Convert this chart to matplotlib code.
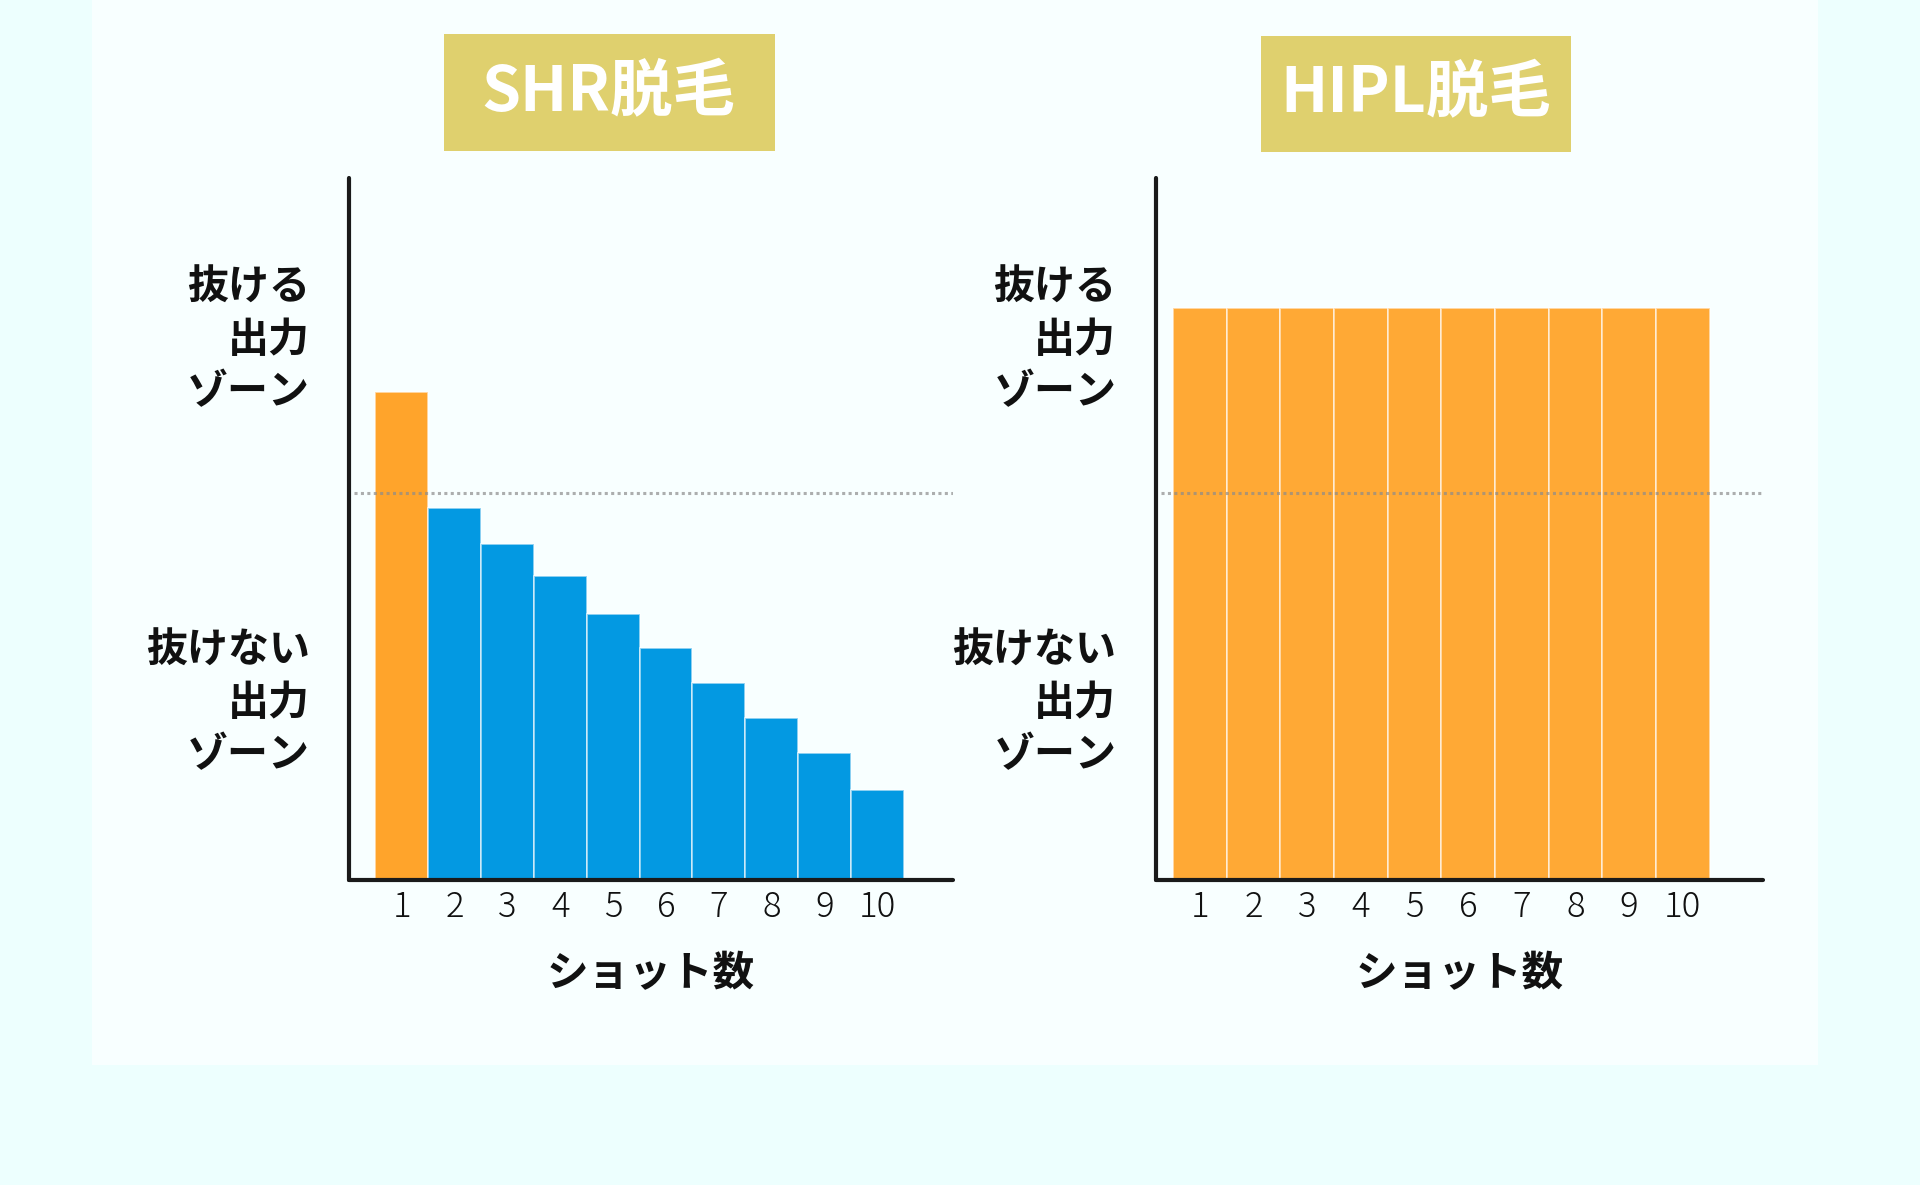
import matplotlib
matplotlib.use('Agg')
import matplotlib.pyplot as plt
import matplotlib.transforms as mtransforms
from matplotlib.patches import Rectangle

plt.rcParams['font.family'] = ['Noto Sans CJK JP', 'DejaVu Sans']

# data (threshold line = 50)
shots = [1, 2, 3, 4, 5, 6, 7, 8, 9, 10]
shot_labels = ['1', '2', '3', '4', '5', '6', '7', '8', '9', '10']
shr_output = [63.1, 48.1, 43.5, 39.3, 34.4, 30.0, 25.5, 20.9, 16.5, 11.7]
hipl_output = [73.9, 73.9, 73.9, 73.9, 73.9, 73.9, 73.9, 73.9, 73.9, 73.9]
threshold = 50
titles = ['SHR脱毛', 'HIPL脱毛']
zone_hi = '抜ける\n出力\nゾーン'
zone_lo = '抜けない\n出力\nゾーン'
xlabel = 'ショット数'

OUTER_BG = '#edfffe'
PANEL_BG = '#f8ffff'
BOX_COLOR = '#dfd06e'
ORANGE = '#ffa42b'
ORANGE_R = '#ffa935'
BLUE = '#0399e2'

fig = plt.figure(figsize=(19.2, 11.85), dpi=100)
fig.patch.set_facecolor(OUTER_BG)

# white panel behind everything
fig.patches.append(Rectangle((0.0478, 0.1012), 0.8993, 0.9, transform=fig.transFigure,
                             facecolor=PANEL_BG, edgecolor='none', zorder=-2))


def draw_chart(rect, values, colors, xlim, box, title_x, title):
    ax = fig.add_axes(rect)
    ax.set_zorder(2)
    ax.set_facecolor('none')
    ax.bar(shots, values, width=1.0, color=colors, edgecolor=(1, 1, 1, 0.6),
           linewidth=1.3, zorder=2)
    ax.axhline(threshold, xmin=0.008, xmax=1.0, color='#8c8c8c', alpha=0.7,
               linewidth=2.2, linestyle=(0, (1, 1.1)), zorder=3)
    ax.set_xlim(*xlim)
    ax.set_ylim(0, 90.8)
    for s in ['top', 'right']:
        ax.spines[s].set_visible(False)
    for s in ['left', 'bottom']:
        ax.spines[s].set_linewidth(3)
        ax.spines[s].set_color('#1a1a1a')
        ax.spines[s].set_capstyle('round')
    ax.set_yticks([])
    ax.set_xticks(shots)
    ax.set_xticklabels(shot_labels, fontsize=25, fontweight='light', color='#111111')
    ax.tick_params(axis='x', length=0, pad=6)

    trans = mtransforms.blended_transform_factory(ax.transAxes, ax.transData)
    ax.text(-0.065, 69.8, zone_hi, transform=trans, ha='right', va='center',
            fontsize=29.5, fontweight='bold', linespacing=1.32, color='#111111')
    ax.text(-0.065, 22.9, zone_lo, transform=trans, ha='right', va='center',
            fontsize=29.5, fontweight='bold', linespacing=1.32, color='#111111')
    ax.text(0.5, -0.134, xlabel, transform=ax.transAxes, ha='center', va='center',
            fontsize=30, fontweight='bold', color='#111111')

    # title box
    fig.patches.append(Rectangle((box[0], box[1]), box[2], box[3], transform=fig.transFigure,
                                 facecolor=BOX_COLOR, edgecolor='none', zorder=-1))
    fig.text(title_x, box[1] + box[3] / 2, title, ha='center', va='center',
             fontsize=45, fontweight='bold', color='white')
    return ax


draw_chart([0.1818, 0.2572, 0.3144, 0.5930], shr_output,
           [ORANGE] + [BLUE] * 9, (0.0, 11.43),
           (0.2315, 0.8729, 0.1722, 0.0981), 0.3170, titles[0])
draw_chart([0.6020, 0.2572, 0.3164, 0.5930], hipl_output,
           [ORANGE_R] * 10, (0.18, 11.5),
           (0.6569, 0.8719, 0.1614, 0.0981), 0.7372, titles[1])

fig.savefig('out.png', dpi=100, facecolor=fig.get_facecolor())
